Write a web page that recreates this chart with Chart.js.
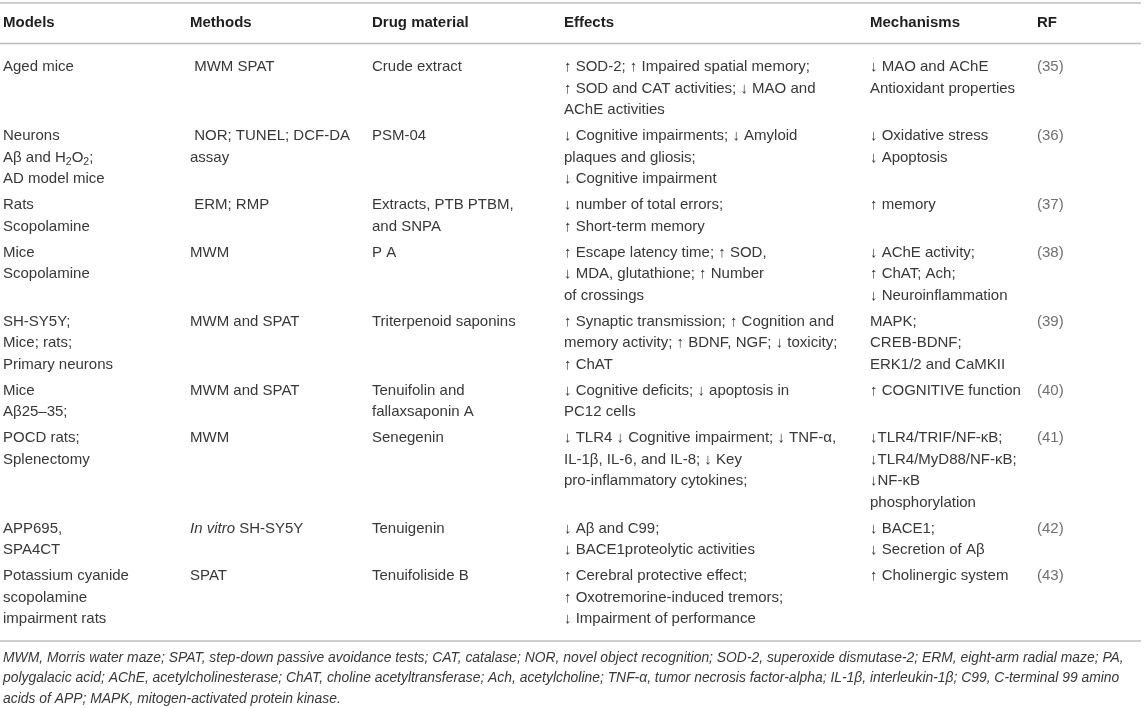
<!DOCTYPE html>
<html>
<head>
<meta charset="utf-8">
<script src="https://cdn.jsdelivr.net/npm/chart.js@4.4.1/dist/chart.umd.min.js"></script>
<style>
  html, body { margin: 0; padding: 0; background: #ffffff; }
  #wrap { width: 1144px; height: 708px; position: relative; }
  canvas { display: block; }
</style>
</head>
<body>
<div id="wrap"><canvas id="c" width="1144" height="708"></canvas></div>
<script>
// ---------------- DATA ----------------
const headers = ["Models", "Methods", "Drug material", "Effects", "Mechanisms", "RF"];

const models = [
  ["Aged mice"],
  ["Neurons", "Aβ and H<sub>2</sub>O<sub>2</sub>;", "AD model mice"],
  ["Rats", "Scopolamine"],
  ["Mice", "Scopolamine"],
  ["SH-SY5Y;", "Mice; rats;", "Primary neurons"],
  ["Mice", "Aβ25–35;"],
  ["POCD rats;", "Splenectomy"],
  ["APP695,", "SPA4CT"],
  ["Potassium cyanide", "scopolamine", "impairment rats"]
];

const methods = [
  [" MWM SPAT"],
  [" NOR; TUNEL; DCF-DA", "assay"],
  [" ERM; RMP"],
  ["MWM"],
  ["MWM and SPAT"],
  ["MWM and SPAT"],
  ["MWM"],
  ["<i>In vitro</i> SH-SY5Y"],
  ["SPAT"]
];

const drugs = [
  ["Crude extract"],
  ["PSM-04"],
  ["Extracts, PTB PTBM,", "and SNPA"],
  ["P A"],
  ["Triterpenoid saponins"],
  ["Tenuifolin and", "fallaxsaponin A"],
  ["Senegenin"],
  ["Tenuigenin"],
  ["Tenuifoliside B"]
];

const effects = [
  ["↑ SOD-2; ↑ Impaired spatial memory;", "↑ SOD and CAT activities; ↓ MAO and", "AChE activities"],
  ["↓ Cognitive impairments; ↓ Amyloid", "plaques and gliosis;", "↓ Cognitive impairment"],
  ["↓ number of total errors;", "↑ Short-term memory"],
  ["↑ Escape latency time; ↑ SOD,", "↓ MDA, glutathione; ↑ Number", "of crossings"],
  ["↑ Synaptic transmission; ↑ Cognition and", "memory activity; ↑ BDNF, NGF; ↓ toxicity;", "↑ ChAT"],
  ["↓ Cognitive deficits; ↓ apoptosis in", "PC12 cells"],
  ["↓ TLR4 ↓ Cognitive impairment; ↓ TNF-α,", "IL-1β, IL-6, and IL-8; ↓ Key", "pro-inflammatory cytokines;"],
  ["↓ Aβ and C99;", "↓ BACE1proteolytic activities"],
  ["↑ Cerebral protective effect;", "↑ Oxotremorine-induced tremors;", "↓ Impairment of performance"]
];

const mechanisms = [
  ["↓ MAO and AChE", "Antioxidant properties"],
  ["↓ Oxidative stress", "↓ Apoptosis"],
  ["↑ memory"],
  ["↓ AChE activity;", "↑ ChAT; Ach;", "↓ Neuroinflammation"],
  ["MAPK;", "CREB-BDNF;", "ERK1/2 and CaMKII"],
  ["↑ COGNITIVE function"],
  ["↓TLR4/TRIF/NF-κB;", "↓TLR4/MyD88/NF-κB;", "↓NF-κB", "phosphorylation"],
  ["↓ BACE1;", "↓ Secretion of Aβ"],
  ["↑ Cholinergic system"]
];

const refs = [["(35)"], ["(36)"], ["(37)"], ["(38)"], ["(39)"], ["(40)"], ["(41)"], ["(42)"], ["(43)"]];

const footnote = [
  "MWM, Morris water maze; SPAT, step-down passive avoidance tests; CAT, catalase; NOR, novel object recognition; SOD-2, superoxide dismutase-2; ERM, eight-arm radial maze; PA,",
  "polygalacic acid; AChE, acetylcholinesterase; ChAT, choline acetyltransferase; Ach, acetylcholine; TNF-α, tumor necrosis factor-alpha; IL-1β, interleukin-1β; C99, C-terminal 99 amino",
  "acids of APP; MAPK, mitogen-activated protein kinase."
];

// ---------------- LAYOUT / STYLE ----------------
const columns = [models, methods, drugs, effects, mechanisms, refs];
const layout = {
  colStart: [3, 190, 372, 564, 870, 1037],
  ruleLeft: 0, ruleRight: 1141,
  topRule: 3, headerY: 23, headerRule: 43.5,
  firstLine: 67, lineH: 21.5, rowGap: 4.5, bottomPad: 22,
  footGap: 17, footLineH: 20.5, footRight: 1125,
  font: '"Liberation Sans", Arial, Helvetica, sans-serif',
  bodySize: 15, headerSize: 15,
  bodyColor: '#383838', headerColor: '#1f1f1f', refColor: '#707070',
  ruleColor: '#bdbdbd', ruleWidth: 1.6, footColor: '#383838'
};

function drawRich(ctx, text, x, y, size, color, baseStyle) {
  const re = /<(sub|i)>(.*?)<\/\1>/g;
  let last = 0, m, segs = [];
  while ((m = re.exec(text)) !== null) {
    if (m.index > last) segs.push({t: text.slice(last, m.index), k: 'n'});
    segs.push({t: m[2], k: m[1]});
    last = re.lastIndex;
  }
  if (last < text.length) segs.push({t: text.slice(last), k: 'n'});
  let cx = x;
  ctx.fillStyle = color;
  ctx.textBaseline = 'middle';
  ctx.textAlign = 'left';
  for (const s of segs) {
    let fs = size, dy = 0, style = baseStyle || '';
    if (s.k === 'sub') { fs = size * 0.7; dy = size * 0.28; }
    if (s.k === 'i') { style = 'italic'; }
    ctx.font = `${style} ${fs}px ${layout.font}`;
    ctx.fillText(s.t, cx, y + dy);
    cx += ctx.measureText(s.t).width;
  }
}

const tablePlugin = {
  id: 'tablePlugin',
  afterDraw(chart) {
    const ctx = chart.ctx;
    const xs = chart.scales.x, ys = chart.scales.y;
    const X = v => xs.getPixelForValue(v);
    const Y = v => ys.getPixelForValue(v);
    ctx.save();

    const rule = (yv) => {
      ctx.beginPath();
      ctx.strokeStyle = layout.ruleColor;
      ctx.lineWidth = layout.ruleWidth;
      ctx.moveTo(X(layout.ruleLeft), Y(yv));
      ctx.lineTo(X(layout.ruleRight), Y(yv));
      ctx.stroke();
    };

    rule(layout.topRule);
    rule(layout.headerRule);

    headers.forEach((h, c) => {
      drawRich(ctx, h, X(layout.colStart[c]), Y(layout.headerY), layout.headerSize, layout.headerColor, 'bold');
    });

    let rowY = layout.firstLine;
    let lastLineY = rowY;
    for (let r = 0; r < models.length; r++) {
      let nLines = 0;
      columns.forEach((col, c) => {
        const cell = col[r];
        nLines = Math.max(nLines, cell.length);
        cell.forEach((line, k) => {
          const color = c === 5 ? layout.refColor : layout.bodyColor;
          drawRich(ctx, line, X(layout.colStart[c]), Y(rowY + k * layout.lineH), layout.bodySize, color, '');
        });
      });
      lastLineY = rowY + (nLines - 1) * layout.lineH;
      rowY += nLines * layout.lineH + layout.rowGap;
    }

    const bottomRule = lastLineY + layout.bottomPad;
    rule(bottomRule);

    // footnote, sized to span the table width
    ctx.font = `italic 14px ${layout.font}`;
    const w14 = ctx.measureText(footnote[0]).width;
    const fSize = 14 * (X(layout.footRight) - X(layout.colStart[0])) / w14;
    footnote.forEach((line, i) => {
      drawRich(ctx, line, X(layout.colStart[0]), Y(bottomRule + layout.footGap + i * layout.footLineH), fSize, layout.footColor, 'italic');
    });

    ctx.restore();
  }
};

new Chart(document.getElementById('c'), {
  type: 'scatter',
  data: { datasets: [] },
  options: {
    responsive: false,
    animation: false,
    events: [],
    layout: { padding: 0 },
    plugins: { legend: { display: false }, tooltip: { enabled: false }, title: { display: false } },
    scales: {
      x: { type: 'linear', min: 0, max: 1144, display: false },
      y: { type: 'linear', min: 0, max: 708, reverse: true, display: false }
    }
  },
  plugins: [tablePlugin]
});
</script>
</body>
</html>
